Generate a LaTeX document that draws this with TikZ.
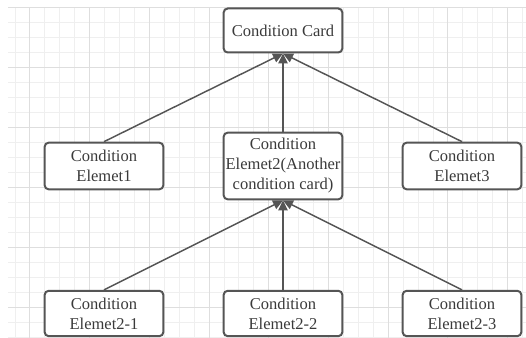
\documentclass[tikz,border=0pt]{standalone}
\usepackage{fontspec}
\setmainfont{Liberation Serif}
\usetikzlibrary{arrows.meta}
\definecolor{gridminor}{HTML}{EFEFEF}
\definecolor{gridmajor}{HTML}{DEDEDE}
\definecolor{boxline}{HTML}{555555}
\definecolor{txt}{HTML}{3A3A3A}
\begin{document}
\begin{tikzpicture}[x=0.75pt,y=-0.75pt,
  card/.style={draw=boxline, line width=1.5pt, rounded corners=3pt, fill=white,
    minimum width=89pt, text=txt, align=center,
    font=\fontsize{12.4}{15}\selectfont, inner sep=0pt},
  link/.style={draw=boxline, line width=1.1pt, -{Triangle[length=7.5pt,width=7pt]}}]
\useasboundingbox (0,0) rectangle (526,338);
\fill[white] (0,0) rectangle (526,338);
% grid
\foreach \k in {1,...,35} {
  \draw[gridminor, line width=0.75pt] ({15+14.93*(\k-1)},8) -- ({15+14.93*(\k-1)},338);
}
\foreach \k in {0,...,22} {
  \draw[gridminor, line width=0.75pt] (8,{8+15*\k}) -- (526,{8+15*\k});
}
\foreach \k in {2,6,...,34} {
  \draw[gridmajor, line width=0.75pt] ({15+14.93*(\k-1)},8) -- ({15+14.93*(\k-1)},338);
}
\foreach \k in {0,4,...,20} {
  \draw[gridmajor, line width=0.75pt] (8,{8+15*\k}) -- (526,{8+15*\k});
}
% nodes
\node[card, minimum height=33pt] (top) at (283,30.5) {Condition Card};
\node[card, minimum height=35pt] (e1) at (104,166) {Condition\\Elemet1};
\node[card, minimum height=50pt] (e2) at (283,166) {Condition\\Elemet2(Another\\condition card)};
\node[card, minimum height=35pt] (e3) at (462,166) {Condition\\Elemet3};
\node[card, minimum height=34pt] (b1) at (104,313.5) {Condition\\Elemet2-1};
\node[card, minimum height=34pt] (b2) at (283,313.5) {Condition\\Elemet2-2};
\node[card, minimum height=34pt] (b3) at (462,313.5) {Condition\\Elemet2-3};
% connectors
\draw[link] (e1.north) -- (top.south);
\draw[link] (e2.north) -- (top.south);
\draw[link] (e3.north) -- (top.south);
\draw[link] (b1.north) -- (e2.south);
\draw[link] (b2.north) -- (e2.south);
\draw[link] (b3.north) -- (e2.south);
\end{tikzpicture}
\end{document}
